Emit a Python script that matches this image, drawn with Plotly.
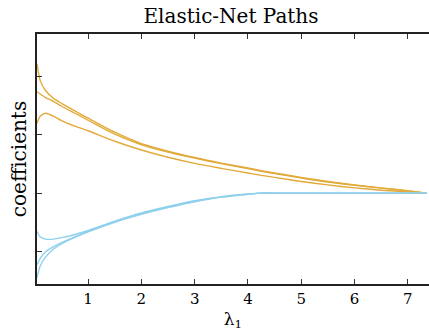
import plotly.graph_objects as go

lam = [0.04, 0.1, 0.2, 0.35, 0.5, 0.75, 1.0, 1.5, 2.0, 2.5, 3.0, 3.5, 4.0, 4.25,
       4.5, 5.0, 5.5, 6.0, 6.5, 7.0, 7.36]

orange_a = [2.22, 1.93, 1.76, 1.625, 1.54, 1.41, 1.285, 1.045, 0.85, 0.72, 0.61, 0.515, 0.43, 0.385,
            0.345, 0.27, 0.20, 0.14, 0.09, 0.04, 0.0]
orange_b = [1.74, 1.70, 1.64, 1.575, 1.49, 1.37, 1.25, 1.01, 0.83, 0.705, 0.60, 0.505, 0.42, 0.375,
            0.335, 0.26, 0.19, 0.135, 0.085, 0.038, 0.0]
orange_c = [1.20, 1.32, 1.37, 1.32, 1.245, 1.15, 1.07, 0.89, 0.74, 0.615, 0.51, 0.425, 0.345, 0.305,
            0.27, 0.20, 0.14, 0.09, 0.05, 0.02, 0.0]

blue_a = [-0.66, -0.75, -0.79, -0.79, -0.765, -0.71, -0.64, -0.48, -0.34, -0.23, -0.13, -0.06,
          -0.015, 0.0, 0.0, 0.0, 0.0, 0.0, 0.0, 0.0, 0.0]
blue_b = [-1.23, -1.12, -1.01, -0.92, -0.85, -0.75, -0.655, -0.49, -0.355, -0.24, -0.14, -0.07,
          -0.02, 0.0, 0.0, 0.0, 0.0, 0.0, 0.0, 0.0, 0.0]
blue_c = [-1.45, -1.25, -1.10, -0.96, -0.87, -0.76, -0.665, -0.50, -0.365, -0.25, -0.15, -0.07,
          -0.02, 0.0, 0.0, 0.0, 0.0, 0.0, 0.0, 0.0, 0.0]

x_ticks = [1, 2, 3, 4, 5, 6, 7]
y_ticks = [-1, 0, 1, 2]

ORANGE = "#E2AA3A"
BLUE = "#8FD0EC"

fig = go.Figure()
for ys, c in [(orange_a, ORANGE), (orange_b, ORANGE), (orange_c, ORANGE),
              (blue_a, BLUE), (blue_b, BLUE), (blue_c, BLUE)]:
    fig.add_trace(go.Scatter(x=lam, y=ys, mode="lines",
                             line=dict(color=c, width=1.4, shape="spline", smoothing=0.7),
                             showlegend=False, hoverinfo="skip"))

serif = "DejaVu Serif, Liberation Serif, serif"
fig.update_layout(
    width=429, height=336,
    margin=dict(l=37, r=0, t=34, b=52),
    paper_bgcolor="white", plot_bgcolor="white",
    title=dict(text="Elastic-Net Paths", x=0.5385, xanchor="center", xref="container",
               y=0.973, yanchor="top", yref="container",
               font=dict(family=serif, size=20, color="black")),
    font=dict(family=serif, color="black"),
)
fig.update_xaxes(range=[0.04, 7.4], tickvals=x_ticks, ticks="inside", ticklen=5, tickwidth=1,
                 tickcolor="#333", showline=True, linecolor="#222", linewidth=1.5, mirror="ticks",
                 showgrid=False, zeroline=False, automargin=False,
                 tickfont=dict(size=15, family=serif),
                 title=dict(text="λ<sub>1</sub>", font=dict(size=17, family=serif), standoff=6))
fig.update_yaxes(range=[-1.56, 2.73], tickvals=y_ticks, showticklabels=False, ticks="inside",
                 ticklen=5, tickwidth=1, tickcolor="#333", showline=True, linecolor="#222",
                 linewidth=1.8, mirror=False, showgrid=False, zeroline=False, automargin=False,
                 title=dict(text="coefficients", font=dict(size=20, family=serif), standoff=3))

fig.write_html("out.html", config={"displayModeBar": False},
               post_script="document.body.style.margin='0';document.body.style.overflow='hidden';")
